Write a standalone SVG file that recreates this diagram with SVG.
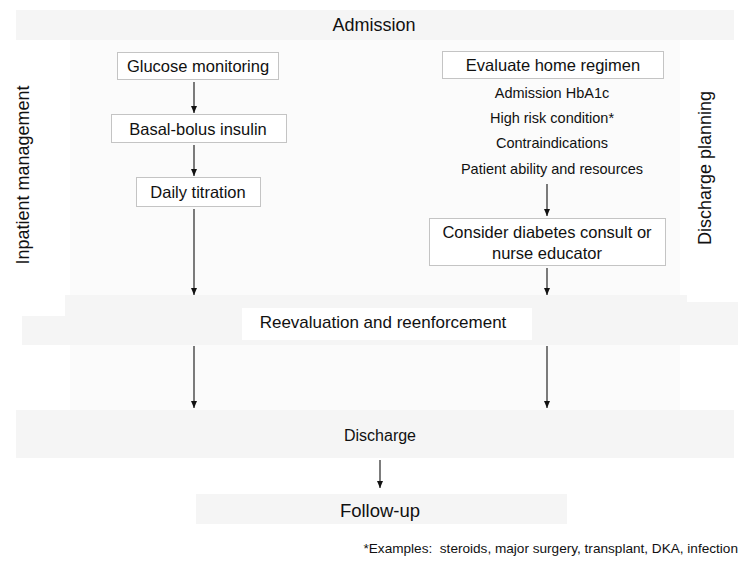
<svg xmlns="http://www.w3.org/2000/svg" width="748" height="561" viewBox="0 0 748 561">
<defs>
<style>
text{font-family:"Liberation Sans",Arial,Helvetica,sans-serif;fill:#111;text-anchor:middle;dominant-baseline:central}
.box{fill:#fff;stroke:#c4c4c4;stroke-width:1}
.band{fill:#f5f5f5}
.panel{fill:#fbfbfb}
.arr{stroke:#111;stroke-width:1.1;fill:none;marker-end:url(#ah)}
.t16{font-size:16.5px}
.t13{font-size:14.5px}
.t18{font-size:18px}
</style>
<marker id="ah" markerWidth="8" markerHeight="8" refX="7" refY="4" orient="auto" markerUnits="userSpaceOnUse">
<path d="M0,1 L7,4 L0,7 Z" fill="#111"/>
</marker>
</defs>
<rect width="748" height="561" fill="#fff"/>
<rect class="panel" x="70" y="40" width="610" height="370"/>

<g id="admission">
<rect class="band" x="16" y="10" width="718" height="30"/>
<text class="t18" x="374" y="25">Admission</text>
</g>

<g id="inpatient-label">
<text class="t18" transform="translate(23,175) rotate(-90)">Inpatient management</text>
</g>
<g id="discharge-planning-label">
<text class="t18" transform="translate(705,168) rotate(-90)">Discharge planning</text>
</g>

<g id="glucose">
<rect class="box" x="117.5" y="52.5" width="161" height="27"/>
<text class="t16" x="198" y="66">Glucose monitoring</text>
</g>
<g id="basal">
<rect class="box" x="111.5" y="114.5" width="175" height="28"/>
<text class="t16" x="198" y="128.5">Basal-bolus insulin</text>
</g>
<g id="titration">
<rect class="box" x="136.5" y="177.5" width="124" height="29"/>
<text class="t16" x="198" y="192">Daily titration</text>
</g>

<g id="evaluate">
<rect class="box" x="442.5" y="51.5" width="221" height="27"/>
<text class="t16" x="553" y="65">Evaluate home regimen</text>
</g>
<g id="criteria">
<text class="t13" x="552" y="93">Admission HbA1c</text>
<text class="t13" x="552" y="118">High risk condition*</text>
<text class="t13" x="552" y="143">Contraindications</text>
<text class="t13" x="552" y="169">Patient ability and resources</text>
</g>
<g id="consult">
<rect class="box" x="429.5" y="218.5" width="236" height="47"/>
<text class="t16" x="547" y="232">Consider diabetes consult or</text>
<text class="t16" x="547" y="253">nurse educator</text>
</g>

<g id="reevaluation">
<path class="band" d="M65,295 H687 V302 H738 V345 H22 V316 H65 Z"/>
<rect x="242" y="308" width="290" height="32" fill="#fff"/>
<text x="383" y="322" style="font-size:17px">Reevaluation and reenforcement</text>
</g>

<g id="discharge">
<rect class="band" x="16" y="410" width="718" height="48"/>
<text x="380" y="435" style="font-size:16px">Discharge</text>
</g>

<g id="followup">
<rect class="band" x="196" y="494" width="371" height="30"/>
<text x="380" y="510" style="font-size:18.5px">Follow-up</text>
</g>

<g id="footnote">
<text x="738" y="548" style="font-size:13.6px;text-anchor:end;white-space:pre">*Examples:  steroids, major surgery, transplant, DKA, infection</text>
</g>

<g id="connectors">
<line class="arr" x1="194" y1="82" x2="194" y2="113"/>
<line class="arr" x1="194" y1="145" x2="194" y2="176"/>
<line class="arr" x1="194" y1="209" x2="194" y2="295"/>
<line class="arr" x1="547" y1="184" x2="547" y2="216"/>
<line class="arr" x1="547" y1="268" x2="547" y2="295"/>
<line class="arr" x1="194" y1="346" x2="194" y2="408"/>
<line class="arr" x1="547" y1="346" x2="547" y2="408"/>
<line class="arr" x1="380" y1="460" x2="380" y2="488"/>
</g>
</svg>
